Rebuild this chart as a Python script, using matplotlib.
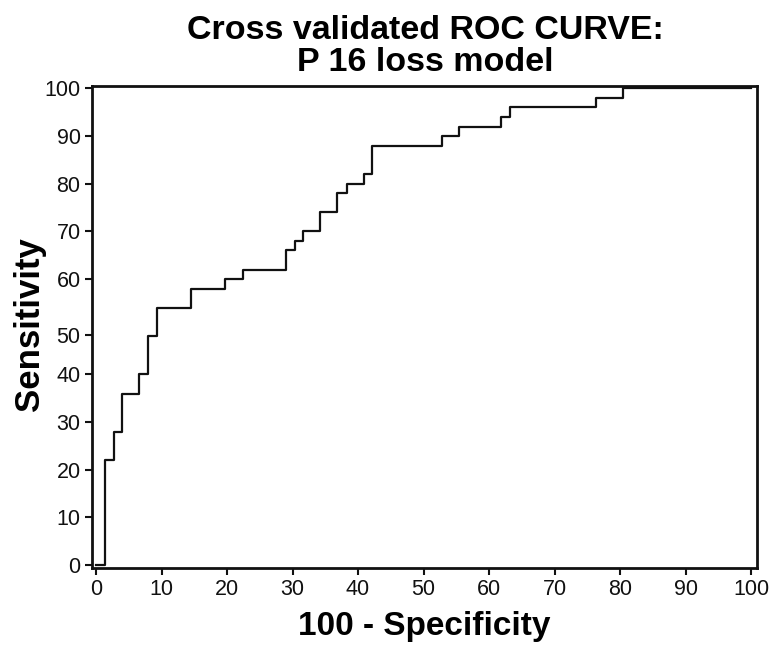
import matplotlib
matplotlib.use("Agg")
import matplotlib.pyplot as plt

# Data (100 - specificity vs sensitivity)
fpr = [0, 1.4, 2.7, 4.0, 6.6, 7.9, 9.3, 14.5, 19.7, 22.4, 29.0, 30.4, 31.6,
       34.2, 36.8, 38.3, 40.9, 42.2, 52.8, 55.4, 61.9, 63.2, 76.4, 80.4, 100]
tpr = [0, 22, 28, 36, 40, 48, 54, 58, 60, 62, 66, 68, 70,
       74, 78, 80, 82, 88, 90, 92, 94, 96, 98, 100, 100]

x_ticks = [0, 10, 20, 30, 40, 50, 60, 70, 80, 90, 100]
x_tick_labels = ["0", "10", "20", "30", "40", "50", "60", "70", "80", "90", "100"]
y_ticks = [0, 10, 20, 30, 40, 48.2, 60, 70, 80, 90, 100]
y_tick_labels = ["0", "10", "20", "30", "40", "50", "60", "70", "80", "90", "100"]

plt.rcParams['font.family'] = ['Liberation Sans', 'DejaVu Sans']

fig = plt.figure(figsize=(7.73, 6.48), dpi=100)
ax = fig.add_axes([0.1186, 0.1242, 0.9797 - 0.1186, 0.8673 - 0.1242])

ax.plot(fpr, tpr, drawstyle='steps-post', color='#111111', lw=1.6)

ax.set_xlim(-0.66, 100.96)
ax.set_ylim(-0.5, 100.5)
ax.set_xticks(x_ticks)
ax.set_xticklabels(x_tick_labels)
ax.set_yticks(y_ticks)
ax.set_yticklabels(y_tick_labels)
ax.tick_params(axis='both', direction='out', length=5, width=1.5,
               labelsize=15.5, pad=3, colors='#111111')
for s in ax.spines.values():
    s.set_linewidth(2)
    s.set_color('#111111')

ax.set_xlabel("100 - Specificity", fontsize=24, fontweight='bold', labelpad=8)
fig.text(0.038, 0.5, "Sensitivity", rotation=90, ha='center', va='center',
         fontsize=25, fontweight='bold')
fig.text(0.55, 0.977, "Cross validated ROC CURVE:\nP 16 loss model",
         ha='center', va='top', fontsize=24.5, fontweight='bold',
         linespacing=1.05)

fig.savefig("out.png", dpi=100)
